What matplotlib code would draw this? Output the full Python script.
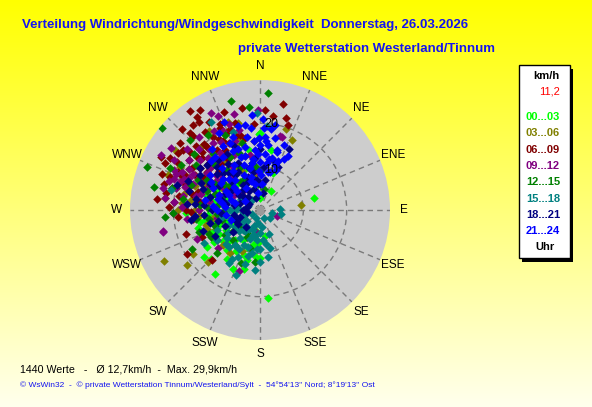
import numpy as np
import matplotlib
matplotlib.use("Agg")
import matplotlib.pyplot as plt
from matplotlib.patches import Rectangle

W, H = 592, 407

dir_00_03 = [78, 175, 214, 192, 183, 0, 246, 259, 268, 254, 0, 359, 220, 230, 240, 250, 260, 270, 280, 290,
             300, 310, 320, 200, 210, 185, 195, 205, 225, 235, 245, 255, 265, 275, 285, 330, 340, 350, 10, 20,
             190, 170, 30, 215, 230,
             220, 225, 235, 245, 255, 265, 275, 285, 295, 305, 315, 325, 210, 200, 195, 190, 180, 240, 250, 260]
spd_00_03 = [12.8, 20.3, 13.7, 9, 7.7, 2.8, 13, 14.2, 17, 15, 17.7, 17.5, 9, 11, 9, 10, 9, 10, 11, 9,
             8, 6, 8, 11, 8, 11, 14, 15, 16, 15, 7, 6, 12, 14, 13, 12, 10, 14, 14, 9,
             5, 6, 5, 18, 17,
             12, 10, 13, 12, 11, 8, 8, 8, 11, 9, 8, 10, 11, 9, 12, 8, 11, 11, 8, 13]

dir_03_06 = [83, 242, 237, 204, 246, 227, 25, 18, 327, 340, 346, 291, 277, 300, 310, 320, 330, 290, 280, 270,
             260, 250, 300, 315, 335, 345, 225, 215, 350, 305, 233, 318, 285, 355,
             305, 315, 325, 330, 340, 295, 285, 275, 265, 255, 320, 345,
             282, 288, 292, 298, 270, 278]
spd_03_06 = [9.6, 25, 18.5, 10.4, 11, 11.8, 17.7, 19.6, 21.7, 21.5, 20.7, 22.7, 22, 10, 15, 12, 18, 16, 12, 15,
             11, 13, 19, 17, 10, 13, 17, 12, 8, 24, 21, 20, 20, 16,
             15, 12, 14, 11, 16, 14, 15, 18, 14, 13, 19, 17,
             18, 14, 19, 21, 19, 16]

dir_06_09 = [325, 329, 325, 330, 335, 8, 16, 18, 290, 276, 239, 245, 262, 224, 300, 305, 310, 312, 315, 318,
             320, 322, 318, 327, 332, 336, 340, 344, 348, 338, 328, 314, 306, 298, 294, 302, 308, 316, 324, 330,
             334, 342, 300, 288, 284, 296, 312, 320, 310, 295, 286, 280, 270, 265, 252, 350, 356, 3, 12, 290, 305,
             300, 305, 310, 315, 320, 325, 330, 335, 340, 345, 295, 290, 285, 310, 318, 326,
             275, 280, 285, 290, 295, 300, 283, 278, 272, 268, 305, 298]
spd_06_09 = [28, 27, 24.7, 23.5, 22, 22, 22, 20.7, 24, 24, 19.7, 14.7, 15.7, 16, 22, 20, 24, 18, 21, 16,
             19, 25, 23, 20, 18, 19.5, 24, 21, 17, 15, 14, 13, 15, 17, 20, 18.5, 22.5, 26, 17, 16,
             21, 18, 13, 18, 21, 24.5, 16, 14, 11, 12, 15, 19, 17, 19, 18, 24, 20, 23, 25, 10, 9,
             15, 17, 19, 19, 20, 22, 19, 17, 20, 18, 19, 22, 17, 21, 24, 26,
             20, 22, 23, 19, 21, 24, 16, 14, 21, 16, 23, 26]

dir_09_12 = [257, 199, 228, 109, 190, 235, 245, 15, 17, 359, 333, 299, 258, 336, 290, 292, 294, 296, 298, 293,
             289, 297, 300, 291, 295, 287, 305, 310, 315, 320, 325, 330, 340, 345, 312, 318, 302, 308, 322, 328,
             335, 280, 275, 270, 283, 350, 355, 300, 315, 270, 260,
             300, 305, 310, 315, 320, 325, 330, 335, 285, 290, 295, 305, 310, 340, 345,
             275, 280, 285, 288, 282, 277, 272, 300, 305, 268, 263]
spd_09_12 = [23, 15, 13, 4.2, 5.2, 12, 16, 17.6, 17.7, 23, 25, 26, 23, 23.7, 17, 19, 18, 20, 17.5, 21,
             19.5, 16, 19, 16.5, 22, 18, 15, 18, 20, 22, 19, 21, 17, 23, 12, 10, 10, 13, 15, 12,
             14, 12, 20, 14, 23, 13, 9, 7, 6, 6, 10,
             14, 20, 22, 17, 18, 16, 18, 20, 14, 21, 13, 12, 15, 21, 19,
             17, 18, 20, 22, 15, 22, 18, 23, 25, 20, 17]

dir_12_15 = [4, 354, 310, 291, 266, 268, 241, 222, 300, 310, 320, 330, 340, 350, 290, 280, 305, 295, 315, 335,
             270, 260, 250, 232, 225, 215, 205, 195, 185, 345, 325, 300, 275, 10, 355, 282, 240, 200,
             300, 305, 315, 325, 335, 345, 355, 285, 275, 265, 255, 245, 235, 290, 310, 320, 330, 0, 230, 210,
             278, 284, 290, 296, 272, 262, 250]
spd_12_15 = [27, 24, 29.5, 28, 22, 20, 13, 9.4, 14, 9, 12, 8, 14, 11, 11, 9, 18, 23, 23, 19,
             8, 12, 11, 8, 14, 10, 7, 9, 12, 26, 21, 21, 14, 5, 6, 25, 18, 13,
             12, 10, 15, 8, 11, 16, 10, 12, 10, 10, 9, 13, 10, 17, 20, 17, 14, 9, 6, 6,
             18, 21, 13, 16, 12, 15, 15]

dir_15_18 = [87, 104, 180, 198, 208, 234, 283, 5, 358, 331, 341, 210, 190, 200, 210, 220, 230, 240, 250, 260,
             200, 215, 225, 195, 185, 175, 150, 245, 255, 265, 275, 190, 205, 220, 235, 245, 180, 170, 230, 210,
             240, 300, 320, 240, 200, 185, 170, 160, 130, 100, 260, 280,
             190, 200, 215, 225, 235, 250, 265, 270, 285, 290, 205, 215, 225, 195, 185, 175, 180, 165, 195, 210]
spd_15_18 = [4.7, 2.9, 5.3, 9, 10.3, 9.2, 21, 19.4, 22.3, 23.3, 19, 14.2, 3, 4, 5, 6, 4, 5, 4, 3,
             7, 8, 7, 6, 7, 4, 2, 8, 7, 6, 5, 10, 12, 11, 12, 11, 9, 8, 10, 2,
             2, 5, 3, 15, 16, 14, 11, 6, 3, 5, 9, 8,
             6, 5, 6, 5, 7, 6, 4, 7, 6, 3, 9, 10, 11, 11, 9, 7, 12, 9, 13, 13]

dir_18_21 = [25, 23, 280, 285, 290, 295, 300, 305, 310, 315, 320, 325, 330, 335, 340, 345, 350, 355, 310, 300,
             290, 280, 270, 265, 260, 255, 250, 245, 240, 275, 287, 320, 330, 338, 5, 10, 15, 262, 297, 318,
             285, 237,
             300, 310, 320, 330, 340, 350, 0, 10, 280, 270, 260, 250, 305, 315, 325, 335, 345, 355, 0, 295,
             305, 285, 275, 265, 255, 245, 230, 220, 315, 325,
             285, 275, 265, 292]
spd_18_21 = [15.6, 10.8, 8, 12, 14, 9, 11, 6, 13, 9, 11, 7, 10, 12, 8, 5, 9, 12, 16, 16,
             5, 15, 11, 13, 6, 10, 14, 9, 12, 17, 20, 15, 15, 16, 10, 7, 12, 16, 13, 4,
             3, 6,
             3, 5, 6, 5, 3, 7, 6, 4, 6, 4, 3, 5, 8, 12, 13, 7, 10, 7, 14, 15,
             17, 9, 13, 9, 12, 6, 8, 5, 14, 10,
             17, 15, 15, 18]

dir_21_24 = [8, 16, 359, 16, 13, 7, 3, 10, 5, 0, 355, 350, 352, 358, 2, 20, 12, 345, 340, 347,
             336, 330, 325, 320, 318, 312, 322, 335, 342, 350, 328, 310, 305, 300, 295, 290, 285, 280, 275, 315,
             332, 338, 25, 5, 355, 300, 270, 262, 250, 340, 347, 4, 354,
             0, 355, 350, 345, 5, 10, 15, 20, 345, 340, 335, 330, 325, 320, 315, 310, 305, 300, 295, 290,
             285, 280, 275, 340, 350, 355, 2, 8, 12, 358, 22, 28, 18]
spd_21_24 = [18.8, 14.3, 16.7, 14, 12.2, 15, 19, 20, 13, 11, 14, 17, 12, 9, 8, 16, 17, 20, 13, 10,
             17, 12, 15, 9, 13, 8, 18, 9, 7, 6, 6, 11, 14, 9, 12, 7, 10, 13, 8, 16,
             20, 22, 13, 6, 4, 4, 10, 8, 7, 11, 15, 17, 19,
             15, 16, 11, 8, 16, 12, 9, 12, 13, 15, 15, 17, 11, 16, 10, 7, 11, 13, 8, 10,
             6, 9, 11, 18, 20, 22, 21, 11, 9, 13, 10, 14, 11]

blocks = [
    (dir_00_03, spd_00_03, "#00ff00", "00...03"),
    (dir_03_06, spd_03_06, "#808000", "03...06"),
    (dir_06_09, spd_06_09, "#800000", "06...09"),
    (dir_09_12, spd_09_12, "#800080", "09...12"),
    (dir_12_15, spd_12_15, "#008000", "12...15"),
    (dir_15_18, spd_15_18, "#008080", "15...18"),
    (dir_18_21, spd_18_21, "#000080", "18...21"),
    (dir_21_24, spd_21_24, "#0000ff", "21...24"),
]

richtungen = ["N", "NNE", "NE", "ENE", "E", "ESE", "SE", "SSE",
              "S", "SSW", "SW", "WSW", "W", "WNW", "NW", "NNW"]

plt.rcParams["font.family"] = ["Liberation Sans", "DejaVu Sans"]

fig = plt.figure(figsize=(W / 100, H / 100), dpi=100)

def px(x, y):
    return x / W, 1 - y / H

# Hintergrund: gelber Verlauf
bg = fig.add_axes([0, 0, 1, 1], zorder=-10)
grad = np.ones((H, 1, 3))
grad[:, 0, 2] = np.linspace(0.0, 0.93, H)
bg.imshow(grad, aspect="auto", extent=[0, 1, 0, 1])
bg.axis("off")

# Polardiagramm, Mitte bei (260, 210), Radius 130 px
cx, cy, rad = 260, 210, 130
ax = fig.add_axes([(cx - rad) / W, 1 - (cy + rad) / H, 2 * rad / W, 2 * rad / H], projection="polar")
ax.set_theta_zero_location("N")
ax.set_theta_direction(-1)
ax.set_facecolor("#cdcdcd")
ax.spines["polar"].set_visible(False)
ax.set_rlim(0, 30)
ax.set_rticks([10, 20])
ax.set_yticklabels([])
ax.set_thetagrids(np.arange(0, 360, 22.5), labels=[""] * 16)
ax.grid(True, color="#7a7a7a", linestyle=(0, (4, 3)), linewidth=1)

for i, name in enumerate(richtungen):
    ax.text(np.deg2rad(i * 22.5), 33.2, name, ha="center", va="center",
            fontsize=8.5, clip_on=False)

for d, s, col, lab in blocks:
    ax.scatter(np.deg2rad(d), s, marker="D", s=19, color=col, linewidths=0, zorder=3)

ax.plot(0, 0, marker="s", ms=4, color="#9a9a9a", zorder=4)

fig.text(*px(264, 124), "20", fontsize=9, ha="left", va="center")
fig.text(*px(264, 170), "10", fontsize=9, ha="left", va="center")

# Titel
fig.text(*px(22, 25), "Verteilung Windrichtung/Windgeschwindigkeit  Donnerstag, 26.03.2026",
         fontsize=9.5, fontweight="bold", color="#1414f0", ha="left", va="center")
fig.text(*px(238, 49), "private Wetterstation Westerland/Tinnum",
         fontsize=9.5, fontweight="bold", color="#1414f0", ha="left", va="center")

# Legende
fig.add_artist(Rectangle(px(522, 262), 51 / W, 193 / H, transform=fig.transFigure,
                         facecolor="black", edgecolor="none"))
fig.add_artist(Rectangle(px(519, 258), 51 / W, 193 / H, transform=fig.transFigure,
                         facecolor="white", edgecolor="black", linewidth=1))
fig.text(*px(546, 76), "km/h", fontsize=8, fontweight="bold", ha="center", va="center")
fig.text(*px(560, 92), "11,2", fontsize=8, color="red", ha="right", va="center")
for i, (d, s, col, lab) in enumerate(blocks):
    fig.text(*px(526, 117 + i * 16.3), lab, fontsize=8, fontweight="bold", color=col,
             ha="left", va="center")
fig.text(*px(545, 247), "Uhr", fontsize=8, fontweight="bold", ha="center", va="center")

# Fußzeilen
fig.text(*px(20, 369), "1440 Werte   -   Ø 12,7km/h  -  Max. 29,9km/h",
         fontsize=7.7, ha="left", va="center")
fig.text(*px(20, 385), "© WsWin32  -  © private Wetterstation Tinnum/Westerland/Sylt  -  54°54'13'' Nord; 8°19'13'' Ost",
         fontsize=6.05, color="#1414f0", ha="left", va="center")

fig.savefig("out.png", dpi=100)
